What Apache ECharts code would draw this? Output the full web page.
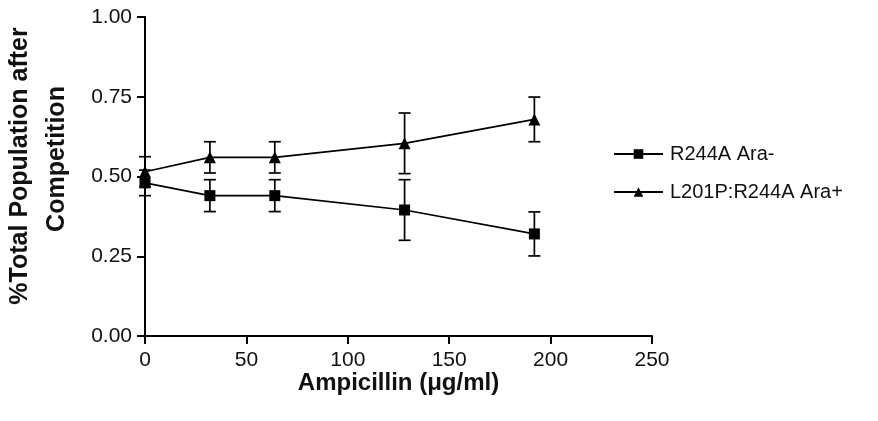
<!DOCTYPE html>
<html>
<head>
  <meta charset="utf-8">
  <title>Ampicillin competition</title>
  <script src="https://cdn.jsdelivr.net/npm/echarts@6/dist/echarts.min.js"></script>
  <style>
    html, body { margin: 0; padding: 0; background: #fff; }
    #chart { width: 878px; height: 421px; }
  </style>
</head>
<body>
<div id="chart"></div>
<script>
  // data
  var doses = [0, 32, 64, 128, 192];
  var araMinusMean = [0.48, 0.44, 0.44, 0.395, 0.32];
  var araMinusErr = [0.04, 0.05, 0.05, 0.095, 0.069];
  var araPlusMean = [0.515, 0.56, 0.56, 0.604, 0.679];
  var araPlusErr = [0.047, 0.049, 0.049, 0.095, 0.07];
  var seriesNames = ['R244A Ara-', 'L201P:R244A Ara+'];

  var font = 'Liberation Sans, Arial, sans-serif';

  function pairs(xs, ys) {
    return xs.map(function (x, i) { return [x, ys[i]]; });
  }
  function errRows(xs, ys, es) {
    return xs.map(function (x, i) { return [x, ys[i] - es[i], ys[i] + es[i]]; });
  }

  // error bar with caps
  function renderErr(params, api) {
    var lo = api.coord([api.value(0), api.value(1)]);
    var hi = api.coord([api.value(0), api.value(2)]);
    var w = 6;
    var st = { stroke: '#000', lineWidth: 1.7 };
    return {
      type: 'group',
      children: [
        { type: 'line', shape: { x1: lo[0], y1: lo[1], x2: hi[0], y2: hi[1] }, style: st },
        { type: 'line', shape: { x1: lo[0] - w, y1: lo[1], x2: lo[0] + w, y2: lo[1] }, style: st },
        { type: 'line', shape: { x1: hi[0] - w, y1: hi[1], x2: hi[0] + w, y2: hi[1] }, style: st }
      ]
    };
  }

  var chart = echarts.init(document.getElementById('chart'));
  var option = {
    animation: false,
    backgroundColor: '#fff',
    grid: { left: 145, right: 226, top: 17, bottom: 85 },
    legend: {
      data: seriesNames,
      orient: 'vertical',
      left: 608,
      top: 139,
      itemWidth: 49,
      itemHeight: 12,
      itemGap: 18,
      textStyle: { fontFamily: font, fontSize: 20, color: '#111', padding: [0, 0, 0, 2] }
    },
    xAxis: {
      type: 'value',
      min: 0, max: 250, interval: 50,
      name: 'Ampicillin (μg/ml)',
      nameLocation: 'middle',
      nameGap: 35,
      nameMoveOverlap: false,
      nameTextStyle: { fontFamily: font, fontSize: 24, fontWeight: 'bold', color: '#111' },
      axisLine: { show: true, onZero: false, lineStyle: { color: '#000', width: 2 } },
      axisTick: { show: true, length: 8, lineStyle: { color: '#000', width: 2 } },
      axisLabel: { fontFamily: font, fontSize: 21, color: '#111', margin: 14 },
      splitLine: { show: false }
    },
    yAxis: {
      type: 'value',
      min: 0, max: 1, interval: 0.25,
      axisLine: { show: true, onZero: false, lineStyle: { color: '#000', width: 2 } },
      axisTick: { show: true, length: 8, lineStyle: { color: '#000', width: 2 } },
      axisLabel: {
        fontFamily: font, fontSize: 21, color: '#111', margin: 13,
        formatter: function (v) { return v.toFixed(2); }
      },
      splitLine: { show: false }
    },
    graphic: [
      {
        type: 'text', x: 20, y: 166, rotation: Math.PI / 2,
        style: { text: '%Total Population after', fontFamily: font, fontSize: 25, fontWeight: 'bold',
                 fill: '#111', textAlign: 'center', textVerticalAlign: 'middle' }
      },
      {
        type: 'text', x: 57, y: 159, rotation: Math.PI / 2,
        style: { text: 'Competition', fontFamily: font, fontSize: 25, fontWeight: 'bold',
                 fill: '#111', textAlign: 'center', textVerticalAlign: 'middle' }
      }
    ],
    series: [
      {
        type: 'custom', name: 'errMinus', renderItem: renderErr,
        data: errRows(doses, araMinusMean, araMinusErr), z: 1, silent: true
      },
      {
        type: 'custom', name: 'errPlus', renderItem: renderErr,
        data: errRows(doses, araPlusMean, araPlusErr), z: 1, silent: true
      },
      {
        type: 'line', name: seriesNames[0],
        data: pairs(doses, araMinusMean),
        symbol: 'rect', symbolSize: 11,
        lineStyle: { color: '#000', width: 1.7 },
        itemStyle: { color: '#000' }, z: 3
      },
      {
        type: 'line', name: seriesNames[1],
        data: pairs(doses, araPlusMean),
        symbol: 'triangle', symbolSize: 12,
        lineStyle: { color: '#000', width: 1.7 },
        itemStyle: { color: '#000' }, z: 3
      }
    ]
  };
  chart.setOption(option);
</script>
</body>
</html>
